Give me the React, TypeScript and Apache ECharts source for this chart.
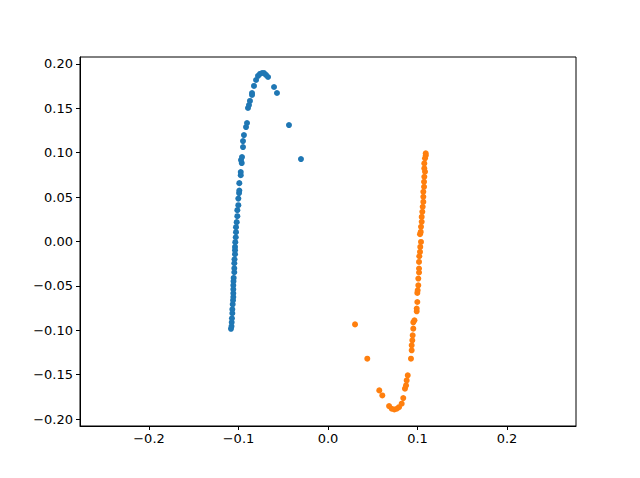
import React, { useEffect, useRef } from "react";
import * as echarts from "echarts";

const blueX = [
  -0.1084, -0.1078, -0.1076, -0.1073, -0.1069, -0.1069, -0.1065, -0.1061, -0.1058, -0.1058,
  -0.1058, -0.1058, -0.1056, -0.1054, -0.1047, -0.1047, -0.1047, -0.1045, -0.1039, -0.1039,
  -0.1039, -0.1036, -0.1031, -0.1028, -0.1028, -0.102, -0.1013, -0.1013, -0.1002, -0.1002,
  -0.0994, -0.0991, -0.0991, -0.0975, -0.0975, -0.0964, -0.0972, -0.0961, -0.095, -0.095,
  -0.0939, -0.0916, -0.0905, -0.0894, -0.0883, -0.0872, -0.0849, -0.0849, -0.0827, -0.0804,
  -0.0782, -0.076, -0.0737, -0.0715, -0.0693, -0.067, -0.0603, -0.057, -0.0436, -0.0302,
];
const blueY = [
  -0.0983, -0.0955, -0.091, -0.0865, -0.0808, -0.0763, -0.0707, -0.0662, -0.0625, -0.0583,
  -0.0538, -0.0493, -0.0448, -0.041, -0.0346, -0.0301, -0.0245, -0.02, -0.0143, -0.0098,
  -0.0061, -0.0008, 0.0048, 0.0105, 0.0161, 0.0218, 0.0285, 0.0353, 0.0409, 0.0483,
  0.0545, 0.0573, 0.0657, 0.0747, 0.0781, 0.0883, 0.0917, 0.095, 0.1063, 0.1131,
  0.1198, 0.1288, 0.1334, 0.1503, 0.1536, 0.1582, 0.1649, 0.1672, 0.1751, 0.1818,
  0.1864, 0.1886, 0.1897, 0.1897, 0.1875, 0.1852, 0.1739, 0.1672, 0.1311, 0.0928,
];
const orangeX = [
  0.0302, 0.0439, 0.0573, 0.0607, 0.0682, 0.0712, 0.0741, 0.0768, 0.0793, 0.0823,
  0.0841, 0.086, 0.0872, 0.0879, 0.0891, 0.0927, 0.0935, 0.0935, 0.0942, 0.0946,
  0.0953, 0.0953, 0.0966, 0.0991, 0.0991, 0.0998, 0.0998, 0.1002, 0.1009, 0.1009,
  0.1017, 0.1017, 0.1017, 0.102, 0.1028, 0.1031, 0.1039, 0.1028, 0.1036, 0.1039,
  0.1047, 0.1047, 0.1054, 0.1058, 0.1065, 0.1065, 0.1065, 0.1073, 0.1073, 0.1076,
  0.1084, 0.1076, 0.1076, 0.1084, 0.1092, 0.1092,
];
const orangeY = [
  -0.0933, -0.1319, -0.1676, -0.1733, -0.1853, -0.1883, -0.1891, -0.1883, -0.1865, -0.1826,
  -0.1763, -0.1657, -0.162, -0.1564, -0.1507, -0.1319, -0.1225, -0.1169, -0.1113, -0.1056,
  -0.0981, -0.091, -0.0887, -0.0786, -0.0755, -0.0681, -0.0579, -0.0549, -0.0493, -0.0417,
  -0.0349, -0.0304, -0.023, -0.0166, -0.0117, -0.0061, -0.0005, 0.0082, 0.0108, 0.0165,
  0.0221, 0.0277, 0.0334, 0.039, 0.0446, 0.0503, 0.0559, 0.0616, 0.0672, 0.0728,
  0.0785, 0.0823, 0.0879, 0.0936, 0.0967, 0.0992,
];
const xTicks = [-0.2, -0.1, 0.0, 0.1, 0.2];
const yTicks = [-0.2, -0.15, -0.1, -0.05, 0.0, 0.05, 0.1, 0.15, 0.2];

const fmt = (v: number, d: number) => v.toFixed(d).replace("-", "\u2212");

export default function App() {
  const ref = useRef<HTMLDivElement>(null);
  useEffect(() => {
    document.body.style.margin = "0";
    const chart = echarts.init(ref.current!, null, { renderer: "svg" });
    const font = "DejaVu Sans";
    chart.setOption({
      animation: false,
      backgroundColor: "#fff",
      grid: {
        left: 80,
        right: 64,
        top: 57,
        bottom: 52,
        show: true,
        borderColor: "#000",
        borderWidth: 1,
        backgroundColor: "transparent",
      },
      xAxis: {
        type: "value",
        min: -0.2771,
        max: 0.2771,
        axisLine: { show: true, onZero: false, lineStyle: { color: "#000", width: 1 } },
        axisTick: { show: true, length: 4, lineStyle: { color: "#000" }, customValues: xTicks },
        axisLabel: {
          color: "#000",
          fontFamily: font,
          fontSize: 13,
          margin: 6,
          customValues: xTicks,
          formatter: (v: number) => fmt(v, 1),
        },
        splitLine: { show: false },
      },
      yAxis: {
        type: "value",
        min: -0.2077,
        max: 0.2077,
        axisLine: { show: true, onZero: false, lineStyle: { color: "#000", width: 1 } },
        axisTick: { show: true, length: 4, lineStyle: { color: "#000" }, customValues: yTicks },
        axisLabel: {
          color: "#000",
          fontFamily: font,
          fontSize: 13,
          margin: 7,
          customValues: yTicks,
          formatter: (v: number) => fmt(v, 2),
        },
        splitLine: { show: false },
      },
      series: [
        {
          type: "scatter",
          symbolSize: 6,
          itemStyle: { color: "#1f77b4", opacity: 1 },
          data: blueX.map((x, i) => [x, blueY[i]]),
        },
        {
          type: "scatter",
          symbolSize: 6,
          itemStyle: { color: "#ff7f0e", opacity: 1 },
          data: orangeX.map((x, i) => [x, orangeY[i]]),
        },
      ],
    });
    return () => chart.dispose();
  }, []);
  return <div ref={ref} style={{ width: 640, height: 478 }} />;
}
